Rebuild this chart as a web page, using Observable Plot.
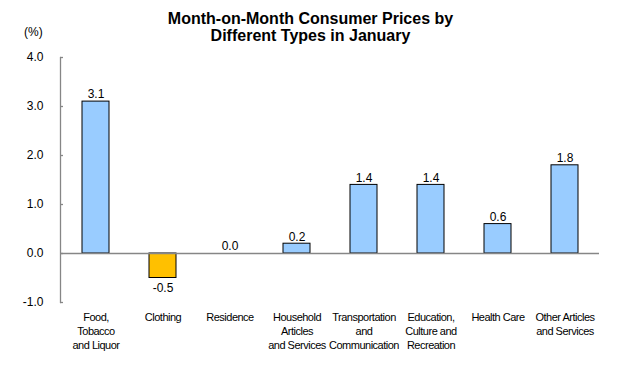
<!DOCTYPE html>
<html>
<head>
<meta charset="utf-8">
<script src="https://cdn.jsdelivr.net/npm/d3@7"></script>
<script src="https://cdn.jsdelivr.net/npm/@observablehq/plot@0.6"></script>
<style>
  html, body { margin: 0; padding: 0; background: #fff; }
  #wrap { position: relative; width: 621px; height: 390px; font-family: "Liberation Sans", Arial, sans-serif; }
  #title { position: absolute; left: 0; top: 10px; width: 621px; text-align: center; font-weight: bold; font-size: 16px; line-height: 17px; color: #000; }
  #unit { position: absolute; left: 24px; top: 25px; font-size: 12px; color: #000; }
  .cpi [aria-label="x-axis tick label"] text { letter-spacing: -0.5px; }
</style>
</head>
<body>
<div id="wrap">
  <div id="chart"></div>
  <div id="title">Month-on-Month Consumer Prices by<br>Different Types in January</div>
  <div id="unit">(%)</div>
</div>
<script>
const categories = ["Food, Tobacco and Liquor", "Clothing", "Residence", "Household Articles and Services", "Transportation and Communication", "Education, Culture and Recreation", "Health Care", "Other Articles and Services"];
const tickLabels = ["Food,\nTobacco\nand Liquor", "Clothing", "Residence", "Household\nArticles\nand Services", "Transportation\nand\nCommunication", "Education,\nCulture and\nRecreation", "Health Care", "Other Articles\nand Services"];
const values = [3.1, -0.5, 0.0, 0.2, 1.4, 1.4, 0.6, 1.8];
const yTicks = [-1, 0, 1, 2, 3, 4];

const data = categories.map((c, i) => ({category: c, label: tickLabels[i], value: values[i]}));
const labelOf = new Map(data.map(d => [d.category, d.label]));
const gray = "#868686";
const font = "'Liberation Sans', Arial, sans-serif";
const fmt = v => v.toFixed(1);

const chart = Plot.plot({
  className: "cpi",
  width: 621,
  height: 390,
  marginTop: 57,
  marginBottom: 88,
  marginLeft: 60,
  marginRight: 22,
  style: {fontFamily: font, background: "#fff", color: "#000"},
  x: {domain: categories, paddingInner: 0.6, paddingOuter: 0.3, axis: null},
  y: {domain: [-1, 4], axis: null},
  marks: [
    Plot.barY(data.filter(d => d.value !== 0), {x: "category", y: "value", fill: d => d.value < 0 ? "#FFC000" : "#99CCFF", stroke: "#000", strokeWidth: 1}),
    Plot.ruleY([0], {stroke: gray, strokeWidth: 1.3}),
    Plot.frame({anchor: "left", stroke: gray, strokeWidth: 1.3}),
    Plot.axisY({ticks: yTicks, tickSize: 3, dx: 3, tickFormat: () => "", label: null, stroke: gray, strokeWidth: 1.3}),
    Plot.axisY({ticks: yTicks, tickSize: 0, tickPadding: 17, tickFormat: fmt, label: null, fontSize: 12, fill: "#000"}),
    Plot.axisX({tickSize: 0, tickPadding: 9, tickFormat: d => labelOf.get(d), label: null, fontSize: 11, lineHeight: 1.27, fill: "#000"}),
    Plot.text(data.filter(d => d.value >= 0), {x: "category", y: "value", text: d => fmt(d.value), dy: -7, fontSize: 12, fill: "#000"}),
    Plot.text(data.filter(d => d.value < 0), {x: "category", y: "value", text: d => fmt(d.value), dy: 10, fontSize: 12, fill: "#000"})
  ]
});
document.getElementById("chart").appendChild(chart);
</script>
</body>
</html>
